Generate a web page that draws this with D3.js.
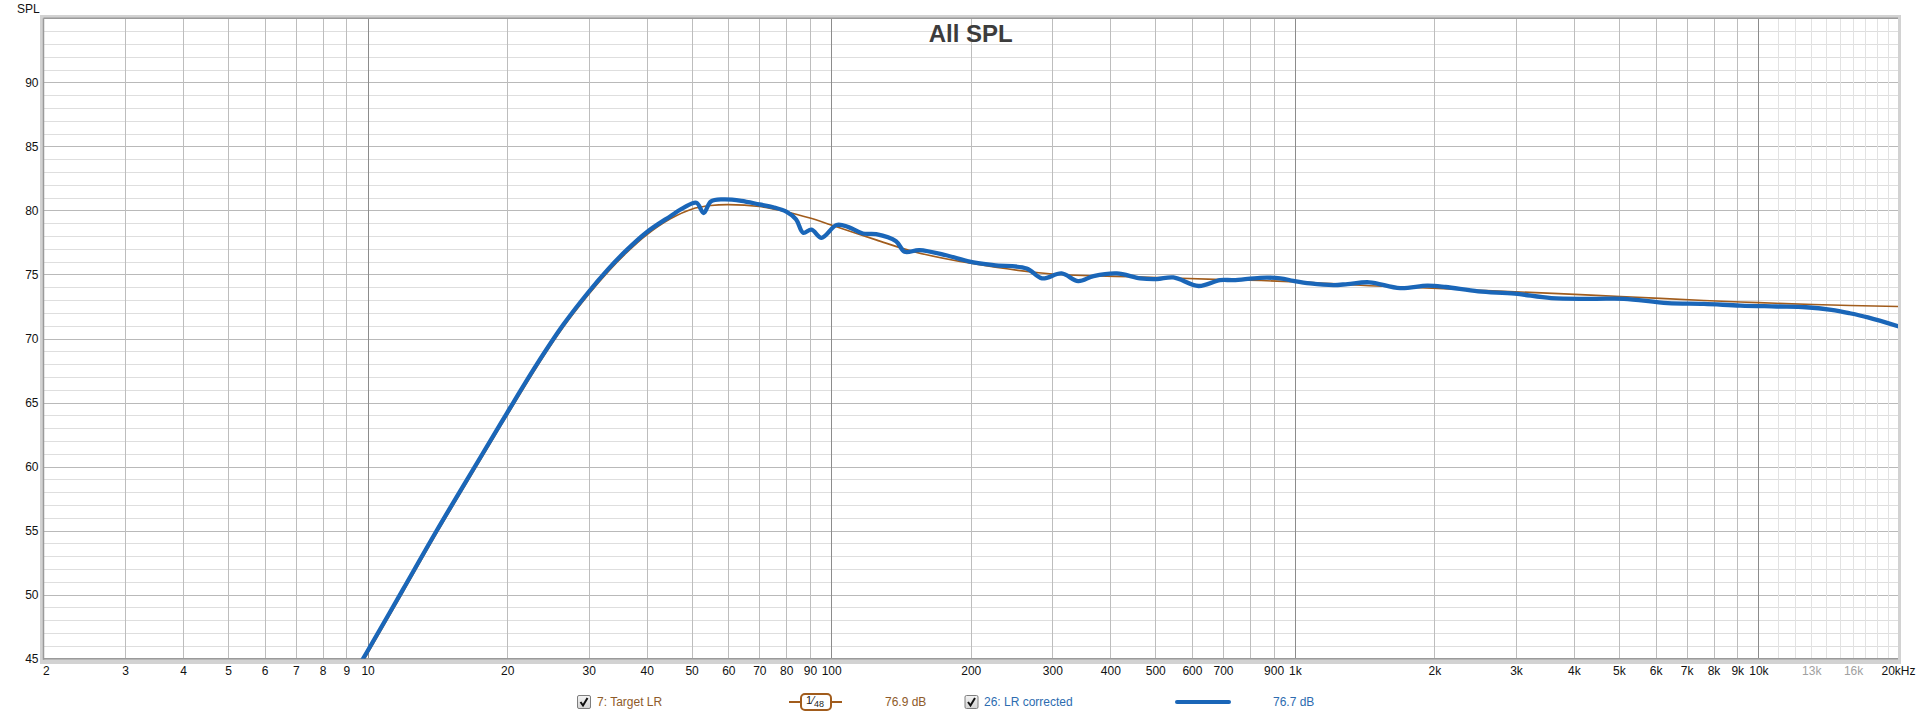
<!DOCTYPE html>
<html>
<head>
<meta charset="utf-8">
<script src="https://cdn.jsdelivr.net/npm/d3@7"></script>
<style>
  html, body { margin: 0; padding: 0; background: #fff; }
  svg { display: block; font-family: "Liberation Sans", Arial, sans-serif; }
</style>
</head>
<body>
<div id="chart"></div>
<script>
// Measured curve (26: LR corrected), Hz / dB
const measFreq = [9.6, 10, 11.9, 14.07, 17.17, 20, 23.1, 26.4, 30, 33, 36.2, 40, 45, 48, 51.2, 53.1, 55, 58.5, 64, 70, 75, 80, 84,
  87, 90.7, 95.3, 102.7, 109, 117, 125, 138, 144, 155, 177, 199, 224, 264, 285, 314, 341, 368, 413, 464,
  504, 547, 620, 690, 737, 842, 930, 993, 1079, 1212, 1300, 1447, 1687, 1932, 2115, 2487, 2982, 3573, 4436,
  5128, 6370, 7630, 9146, 10960, 12670, 14370, 15730, 17220, 20000];
const measSpl = [44.5, 45.6, 50.35, 54.95, 60.2, 64.2, 67.9, 71.05, 73.65, 75.4, 76.9, 78.3, 79.55, 80.2, 80.6, 79.8, 80.7, 80.86, 80.75, 80.47, 80.25, 79.9, 79.3,
  78.26, 78.5, 77.86, 78.86, 78.7, 78.2, 78.15, 77.6, 76.77, 76.9, 76.5, 76.0, 75.73, 75.47, 74.7, 75.08, 74.48, 74.87, 75.08, 74.7,
  74.64, 74.77, 74.1, 74.56, 74.56, 74.74, 74.7, 74.5, 74.3, 74.17, 74.25, 74.39, 73.94, 74.13, 74.02, 73.68, 73.5, 73.15, 73.1,
  73.1, 72.76, 72.7, 72.57, 72.5, 72.44, 72.23, 71.97, 71.65, 70.96];

// Target curve (7: Target LR)
const targetFreq = [9.6, 10, 11.9, 14.07, 17.17, 20, 23.1, 26.4, 30, 33, 36.2, 40, 45, 50, 55, 60, 70, 80, 90, 100, 125, 150, 200,
  300, 450, 700, 1000, 1500, 2356, 3706, 5039, 7630, 10000, 13130, 20000];
const targetSpl = [44.3, 45.4, 50.15, 54.75, 60.0, 64.0, 67.7, 70.85, 73.45, 75.2, 76.7, 78.1, 79.35, 80.1, 80.38, 80.45, 80.3, 79.9, 79.4, 78.86, 77.7, 76.8, 75.87,
  75.03, 74.82, 74.6, 74.43, 74.1, 73.81, 73.5, 73.28, 72.97, 72.8, 72.65, 72.5];

// Axis ticks
const gridFreqs = [3, 4, 5, 6, 7, 8, 9, 10, 20, 30, 40, 50, 60, 70, 80, 90, 100, 200, 300, 400, 500, 600, 700, 800, 900,
  1000, 2000, 3000, 4000, 5000, 6000, 7000, 8000, 9000, 10000];
const fineFreqs = [11000, 12000, 13000, 14000, 15000, 16000, 17000, 18000, 19000];
const decadeFreqs = [10, 100, 1000, 10000];
const labelFreqs = [2, 3, 4, 5, 6, 7, 8, 9, 10, 20, 30, 40, 50, 60, 70, 80, 90, 100, 200, 300, 400, 500, 600, 700, 900,
  1000, 2000, 3000, 4000, 5000, 6000, 7000, 8000, 9000, 10000, 13000, 16000, 20000];
const greyLabels = [13000, 16000];
const splTicks = [45, 50, 55, 60, 65, 70, 75, 80, 85, 90];

const W = 1920, H = 716;
const plotL = 43.5, plotR = 1898, plotT = 18.3, plotB = 658.7;

const svg = d3.select("#chart").append("svg")
    .attr("width", W)
    .attr("height", H);

const x = d3.scaleLog().domain([2, 20000]).range([plotL, plotR]);
const y = d3.scaleLinear().domain([45, 95]).range([plotB, plotT]);

// Frame
svg.append("rect")
    .attr("x", 40).attr("y", 15)
    .attr("width", 1861).attr("height", 649)
    .attr("fill", "#d2d2d2");
svg.append("rect")
    .attr("x", plotL).attr("y", plotT)
    .attr("width", plotR - plotL).attr("height", plotB - plotT)
    .attr("fill", "#fff");

// Horizontal grid (1 dB minor, 5 dB major)
svg.append("g")
    .attr("transform", `translate(${plotL},0)`)
    .call(d3.axisLeft(y).tickValues(d3.range(46, 95, 1)).tickSize(-(plotR - plotL)).tickFormat(""))
    .call(g => g.select(".domain").remove())
    .selectAll("line")
      .attr("stroke", d => d % 5 === 0 ? "#b9b9b9" : "#dedede")
      .attr("shape-rendering", "crispEdges");

// Vertical grid
svg.append("g")
    .attr("transform", `translate(0,${plotB})`)
    .call(d3.axisBottom(x).tickValues(fineFreqs).tickSize(-(plotB - plotT)).tickFormat(""))
    .call(g => g.select(".domain").remove())
    .selectAll("line")
      .attr("stroke", "#e2e2e2")
      .attr("shape-rendering", "crispEdges");

svg.append("g")
    .attr("transform", `translate(0,${plotB})`)
    .call(d3.axisBottom(x).tickValues(gridFreqs).tickSize(-(plotB - plotT)).tickFormat(""))
    .call(g => g.select(".domain").remove())
    .selectAll("line")
      .attr("stroke", d => decadeFreqs.includes(d) ? "#8c8c8c" : "#bdbdbd")
      .attr("shape-rendering", "crispEdges");

// Inner frame edges
svg.append("line").attr("x1", plotL).attr("x2", plotL).attr("y1", plotT).attr("y2", plotB + 1)
    .attr("stroke", "#9a9a9a").attr("stroke-width", 1.5);
svg.append("line").attr("x1", plotL).attr("x2", plotR).attr("y1", plotT).attr("y2", plotT)
    .attr("stroke", "#9a9a9a").attr("stroke-width", 1.5);
svg.append("line").attr("x1", plotL).attr("x2", plotR).attr("y1", plotB).attr("y2", plotB)
    .attr("stroke", "#9a9a9a").attr("stroke-width", 1.5);

// Title
svg.append("text")
    .attr("x", (plotL + plotR) / 2)
    .attr("y", 42)
    .attr("text-anchor", "middle")
    .style("font-size", "24px")
    .style("font-weight", "bold")
    .attr("fill", "#3c3c3c")
    .text("All SPL");

// Y axis labels
svg.append("g")
    .attr("transform", `translate(${plotL},0)`)
    .call(d3.axisLeft(y).tickValues(splTicks).tickSize(0).tickPadding(5))
    .call(g => g.select(".domain").remove())
    .selectAll("text")
      .style("font-size", "12px")
      .style("font-family", "'Liberation Sans', Arial, sans-serif")
      .attr("fill", "#111");

svg.append("text")
    .attr("x", 17).attr("y", 12.5)
    .style("font-size", "12px")
    .attr("fill", "#111")
    .text("SPL");

// X axis labels
const fmt = f => f === 20000 ? "20kHz" : f >= 1000 ? (f / 1000) + "k" : String(f);
svg.append("g")
    .attr("transform", `translate(0,${plotB})`)
    .call(d3.axisBottom(x).tickValues(labelFreqs).tickSize(0).tickPadding(8).tickFormat(fmt))
    .call(g => g.select(".domain").remove())
    .selectAll("text")
      .style("font-size", "12px")
      .style("font-family", "'Liberation Sans', Arial, sans-serif")
      .attr("fill", d => greyLabels.includes(d) ? "#a0a0a0" : "#111")
      .attr("text-anchor", d => d === 2 ? "start" : "middle")
      .attr("dx", d => d === 2 ? "-1" : null);

// Curves
svg.append("clipPath").attr("id", "plot-clip")
  .append("rect")
    .attr("x", plotL).attr("y", plotT)
    .attr("width", plotR - plotL).attr("height", plotB - plotT);

const line = d3.line()
    .x(d => x(d[0]))
    .y(d => y(d[1]))
    .curve(d3.curveCatmullRom.alpha(0.5));

const targetData = targetFreq.map((f, i) => [f, targetSpl[i]]);
const measData = measFreq.map((f, i) => [f, measSpl[i]]);

const curves = svg.append("g").attr("clip-path", "url(#plot-clip)");
curves.append("path")
    .datum(targetData)
    .attr("d", line)
    .attr("fill", "none")
    .attr("stroke", "#a15c1c")
    .attr("stroke-width", 1.6);
curves.append("path")
    .datum(measData)
    .attr("d", line)
    .attr("fill", "none")
    .attr("stroke", "#1a66b8")
    .attr("stroke-width", 4.3)
    .attr("stroke-linejoin", "round")
    .attr("stroke-linecap", "round");

// Legend
const ly = 702;
const defs = svg.append("defs");
const grad = defs.append("linearGradient").attr("id", "cb-grad")
    .attr("x1", 0).attr("y1", 0).attr("x2", 0).attr("y2", 1);
grad.append("stop").attr("offset", "0%").attr("stop-color", "#f4f4f4");
grad.append("stop").attr("offset", "100%").attr("stop-color", "#d4d4d4");

function checkbox(cx) {
  const g = svg.append("g").attr("transform", `translate(${cx},${ly - 7})`);
  g.append("rect")
      .attr("x", 0.5).attr("y", 0.5).attr("width", 13).attr("height", 13)
      .attr("rx", 1.5)
      .attr("fill", "url(#cb-grad)")
      .attr("stroke", "#7e7e7e");
  g.append("path")
      .attr("d", "M3.5,7 L6,10.5 L10.5,3")
      .attr("fill", "none")
      .attr("stroke", "#111")
      .attr("stroke-width", 2);
}

const brown = "#8e5b2a", blueTxt = "#2d6cb0";

checkbox(577);
svg.append("text").attr("x", 597).attr("y", ly + 4.3)
    .style("font-size", "12px").attr("fill", brown).text("7: Target LR");

svg.append("line").attr("x1", 789).attr("x2", 842).attr("y1", ly).attr("y2", ly)
    .attr("stroke", "#a15c1c").attr("stroke-width", 2);
svg.append("rect").attr("x", 801).attr("y", ly - 8).attr("width", 30).attr("height", 16)
    .attr("rx", 4).attr("fill", "#fff").attr("stroke", "#a15c1c").attr("stroke-width", 2);
const frac = svg.append("text").attr("x", 806).attr("y", ly + 3).attr("fill", "#222");
frac.append("tspan").style("font-size", "11px").attr("dy", -1).text("1");
frac.append("tspan").style("font-size", "11px").text("⁄");
frac.append("tspan").style("font-size", "9px").attr("dy", 3).text("48");

svg.append("text").attr("x", 885).attr("y", ly + 4.3)
    .style("font-size", "12px").attr("fill", brown).text("76.9 dB");

checkbox(964.5);
svg.append("text").attr("x", 984).attr("y", ly + 4.3)
    .style("font-size", "12px").attr("fill", blueTxt).text("26: LR corrected");

svg.append("line").attr("x1", 1177).attr("x2", 1229).attr("y1", ly).attr("y2", ly)
    .attr("stroke", "#1a66b8").attr("stroke-width", 4).attr("stroke-linecap", "round");

svg.append("text").attr("x", 1273).attr("y", ly + 4.3)
    .style("font-size", "12px").attr("fill", blueTxt).text("76.7 dB");
</script>
</body>
</html>
